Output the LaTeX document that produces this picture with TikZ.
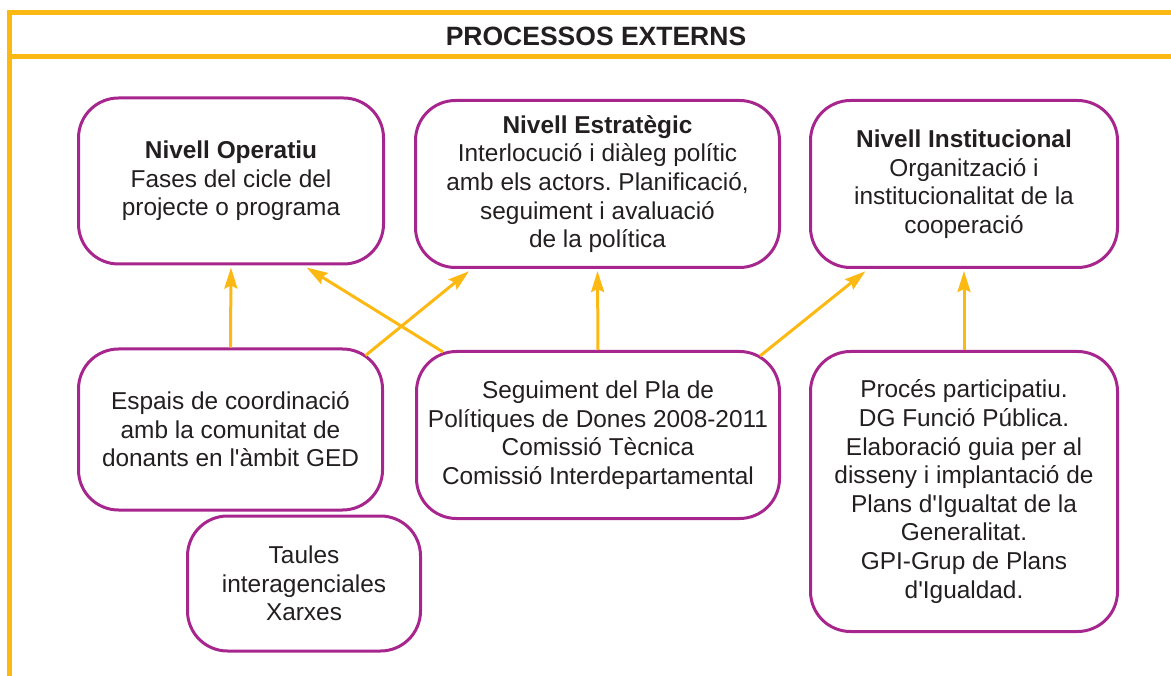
\documentclass[tikz,border=0pt]{standalone}
\usepackage{fontspec}
\newfontfamily\arialfont{Liberation Sans}
\usetikzlibrary{arrows.meta,calc}
\definecolor{orng}{RGB}{253,185,19}
\definecolor{purp}{RGB}{166,38,142}
\definecolor{ink}{RGB}{35,31,32}
\tikzset{
    pbox/.style={rectangle,rounded corners=40pt,draw=purp,line width=3pt,align=center,text=ink,inner sep=0,
        font=\arialfont\fontsize{24.4}{28.6}\selectfont\frenchspacing},
    link/.style={draw=orng,line width=3pt,-{Stealth[length=21pt,width=13pt,inset=3pt]},shorten >=2pt},
    orangerule/.style={draw=orng,line width=5pt}
}

\begin{document}
\begin{tikzpicture}[x=1pt,y=-1pt]
    \useasboundingbox (0,0) rectangle (1171,676);
    \draw[orangerule] (9,676) -- (9,12.5) -- (1171,12.5);
    \draw[orangerule] (9,57) -- (1171,57);
    \node[font=\arialfont\bfseries\fontsize{26.5}{30}\selectfont,text=ink] (title) at (596,36) {PROCESSOS EXTERNS};

    \node[pbox,minimum width=305pt,minimum height=166pt] (oper) at (231,181)
        {\textbf{Nivell Operatiu}\\Fases del cicle del\\projecte o programa};
    \node[pbox,minimum width=364pt,minimum height=167pt] (estr) at (597.5,184)
        {\textbf{Nivell Estratègic}\\Interlocució i diàleg polític\\amb els actors. Planificació,\\seguiment i avaluació\\de la política};
    \node[pbox,minimum width=307pt,minimum height=167pt] (inst) at (964,184)
        {\textbf{Nivell Institucional}\\Organització i\\institucionalitat de la\\cooperació};
    \node[pbox,minimum width=304pt,minimum height=161pt] (esp) at (230.5,429.5)
        {Espais de coordinació\\amb la comunitat de\\donants en l'àmbit GED};
    \node[pbox,minimum width=363pt,minimum height=167pt] (seg) at (598,435)
        {Seguiment del Pla de\\Polítiques de Dones 2008-2011\\Comissió Tècnica\\Comissió Interdepartamental};
    \node[pbox,minimum width=307pt,minimum height=280pt] (proc) at (964,491.5)
        {Procés participatiu.\\DG Funció Pública.\\Elaboració guia per al\\disseny i implantació de\\Plans d'Igualtat de la\\Generalitat.\\GPI-Grup de Plans\\d'Igualdad.};
    \node[pbox,minimum width=233pt,minimum height=135pt] (taul) at (304,583.5)
        {Taules\\interagenciales\\Xarxes};

    \draw[link] (esp.north) -- (oper.south);
    \draw[link] ($(esp.north)+(135,8)$) -- ($(estr.south)+(-127,1)$);
    \draw[link] ($(seg.north)+(-155,2)$) -- ($(oper.south)+(74,1)$);
    \draw[link] (seg.north) -- (estr.south);
    \draw[link] ($(seg.north)+(162,6)$) -- ($(inst.south)+(-97,1)$);
    \draw[link] (proc.north) -- (inst.south);
\end{tikzpicture}
\end{document}
